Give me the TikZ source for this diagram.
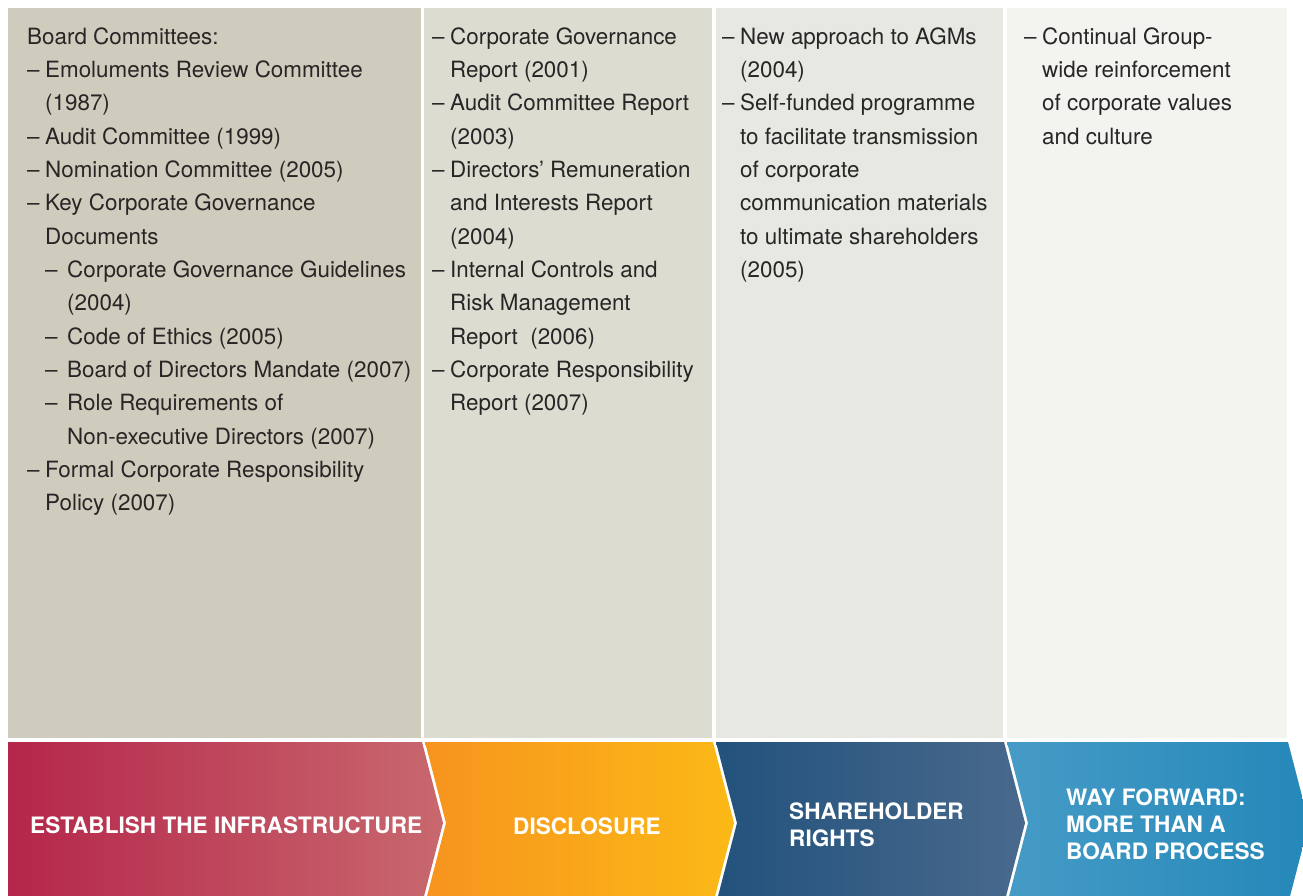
\documentclass[tikz,border=0pt]{standalone}
\usepackage{fontspec}
\setmainfont{TeX Gyre Heros}
\usepackage{tikz}

\definecolor{txtgray}{RGB}{40,37,38}
\definecolor{colA}{RGB}{207,204,189}
\definecolor{colB}{RGB}{220,220,208}
\definecolor{colC}{RGB}{232,232,226}
\definecolor{colD}{RGB}{243,243,239}
\definecolor{redL}{RGB}{181,38,74}
\definecolor{redR}{RGB}{200,104,110}
\definecolor{orgL}{RGB}{247,148,30}
\definecolor{orgR}{RGB}{251,185,22}
\definecolor{navL}{RGB}{34,82,124}
\definecolor{navR}{RGB}{73,105,141}
\definecolor{bluL}{RGB}{70,155,198}
\definecolor{bluR}{RGB}{36,136,185}

% dash items
\newcommand{\dsh}{\makebox[18pt][l]{--}}
\newcommand{\subdsh}{\hspace*{18pt}\makebox[22pt][l]{--}}
\newcommand{\ind}{\hspace*{18pt}}
\newcommand{\subind}{\hspace*{40pt}}
\newcommand{\firstln}{\rule{0pt}{17pt}}

\begin{document}
\begin{tikzpicture}[x=1pt,y=-1pt,
  coltext/.style={anchor=north west,inner sep=0pt,align=left,text=txtgray,
    font=\fontsize{22.4}{33.33}\selectfont},
  steptext/.style={anchor=base west,inner sep=0pt,align=left,text=white,
    font=\fontsize{22.6}{27}\selectfont\bfseries}]
\useasboundingbox (0,0) rectangle (1303,896);
\clip (0,0) rectangle (1303,896);

% columns
\fill[colA] (8,8) rectangle (421,738);
\fill[colB] (424,8) rectangle (712,738);
\fill[colC] (716,8) rectangle (1003,738);
\fill[colD] (1007,8) rectangle (1287,738);

% steps
\shade[left color=redL,right color=redR] (8,742) -- (422,742) -- (443,823) -- (422,904) -- (8,904) -- cycle;
\shade[left color=orgL,right color=orgR] (425,742) -- (713,742) -- (734,823) -- (713,904) -- (425,904) -- (446,823) -- cycle;
\shade[left color=navL,right color=navR] (716,742) -- (1004,742) -- (1025,823) -- (1004,904) -- (716,904) -- (737,823) -- cycle;
\shade[left color=bluL,right color=bluR] (1007,742) -- (1288,742) -- (1309,823) -- (1288,904) -- (1007,904) -- (1028,823) -- cycle;

\node[steptext] (infra) at (30,833) {ESTABLISH THE INFRASTRUCTURE};
\node[steptext] (disclosure) at (513,834) {DISCLOSURE};
\node[steptext,anchor=north west] (rights) at (789,803) {SHAREHOLDER\\RIGHTS};
\node[steptext,anchor=north west] (forward) at (1066,789) {WAY FORWARD:\\MORE THAN A\\BOARD PROCESS};

% column texts
\node[coltext] (committees) at (27,27) {\firstln Board Committees:\\
\dsh Emoluments Review Committee\\
\ind (1987)\\
\dsh Audit Committee (1999)\\
\dsh Nomination Committee (2005)\\
\dsh Key Corporate Governance\\
\ind Documents\\
\subdsh Corporate Governance Guidelines\\
\subind (2004)\\
\subdsh Code of Ethics (2005)\\
\subdsh Board of Directors Mandate (2007)\\
\subdsh Role Requirements of\\
\subind Non-executive Directors (2007)\\
\dsh Formal Corporate Responsibility\\
\ind Policy (2007)};

\node[coltext] (reports) at (432,27) {\firstln\dsh Corporate Governance\\
\ind Report (2001)\\
\dsh Audit Committee Report\\
\ind (2003)\\
\dsh Directors’ Remuneration\\
\ind and Interests Report\\
\ind (2004)\\
\dsh Internal Controls and\\
\ind Risk Management\\
\ind Report\ \ (2006)\\
\dsh Corporate Responsibility\\
\ind Report (2007)};

\node[coltext] (agms) at (722,27) {\firstln\dsh New approach to AGMs\\
\ind (2004)\\
\dsh Self-funded programme\\
\ind to facilitate transmission\\
\ind of corporate\\
\ind communication materials\\
\ind to ultimate shareholders\\
\ind (2005)};

\node[coltext] (values) at (1024,27) {\firstln\dsh Continual Group-\\
\ind wide reinforcement\\
\ind of corporate values\\
\ind and culture};
\end{tikzpicture}
\end{document}
